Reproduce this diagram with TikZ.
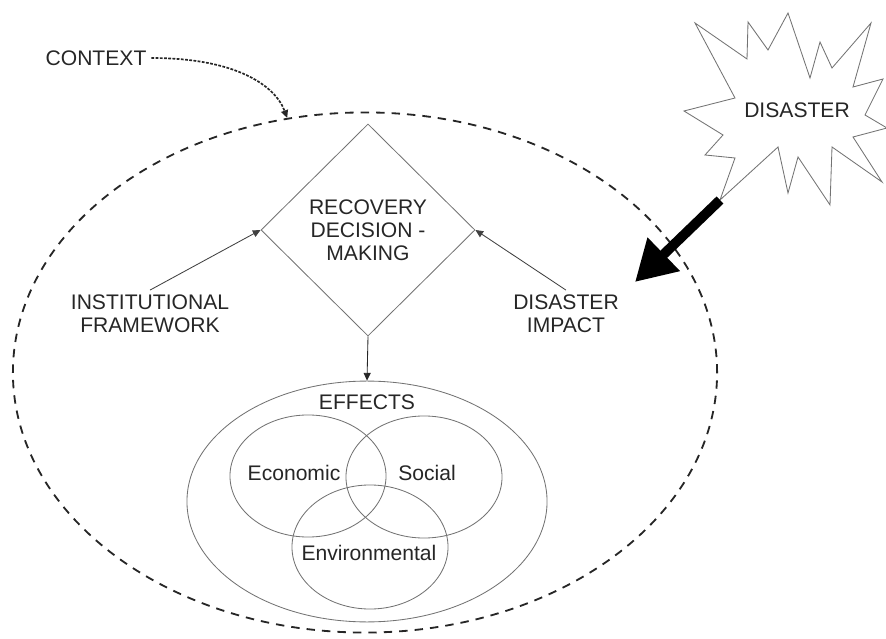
\documentclass[tikz,border=0pt]{standalone}
\usepackage{fontspec}
\setmainfont{Liberation Sans}
\usetikzlibrary{positioning}
\usetikzlibrary{calc}
\usetikzlibrary{shapes.geometric}
\usetikzlibrary{arrows.meta}

\begin{document}
\begin{tikzpicture}[x=0.025cm,y=0.025cm,->,>={Triangle[length=5.5pt,width=5pt]}]
				\tikzset{txt/.style = {align=center, font=\fontsize{15}{16.3}\selectfont, text=black!85}}
				\tikzset{ring/.style = {shape=ellipse, draw=black!55, semithick, inner sep=0pt}}
				\tikzset{area/.style = {shape=ellipse, draw=black!85, line width=1.3pt, dash pattern=on 6pt off 5pt, inner sep=0pt}}
				\tikzset{vertex/.style = {shape=diamond, draw=black!55, semithick, inner sep=0pt, minimum width=5.35cm, minimum height=5.3cm, txt}}
				\useasboundingbox (0,0) rectangle (886,638);
				
				% context and effects
				\node[area, minimum width=17.6cm, minimum height=13cm] (AREA) at (365,265.5) {};
				\node[ring, minimum width=9cm, minimum height=6.02cm] (EFFECTS) at (367,136.5) {};
				\node[ring, minimum width=3.9cm, minimum height=3.05cm] (ECON) at (308,162) {};
				\node[ring, minimum width=3.9cm, minimum height=3.05cm] (SOC) at (424,161) {};
				\node[ring, minimum width=3.9cm, minimum height=3.1cm] (ENV) at (370,91) {};
				\node[txt] (EFFECTSTXT) at (367,236) {EFFECTS};
				\node[txt] (ECONTXT) at (294,165) {Economic};
				\node[txt] (SOCTXT) at (427,165) {Social};
				\node[txt] (ENVTXT) at (369,85) {Environmental};
				
				\node[vertex] (RDM) at (368,408) {RECOVERY\\DECISION -\\MAKING};
				\node[txt] (INST) at (150,324) {INSTITUTIONAL\\FRAMEWORK};
				\node[txt] (IMPACT) at (566,324) {DISASTER\\IMPACT};
				\node[txt] (CONTEXT) at (96,580) {CONTEXT};
				
				\draw[semithick, black!75] (INST.north) -- (RDM.west);
				\draw[semithick, black!75] (IMPACT.north) -- (RDM.east);
				\draw[semithick, black!85] (RDM.south) -- (EFFECTS.north);
				\draw[black!85, line width=1.2pt, dash pattern=on 2pt off 1pt] (CONTEXT.east) .. controls (235,580) and (275,553) .. (AREA.107);
				
				% disaster
				\draw[-, black!55, semithick, fill=white] (695,615) -- (747,579) -- (748,616) -- (768,588) -- (788,625) -- (810,560) -- (820,596) -- (832,570) -- (871,615) -- (853,551) -- (883,559) -- (865,523) -- (887,510) -- (853,501) -- (882,456) -- (832,491) -- (830,433) -- (798,481) -- (788,445) -- (778,491) -- (720,438) -- (735,480) -- (705,483) -- (723,503) -- (684,527) -- (735,540) -- cycle;
				\node[txt] (DISASTER) at (797,528) {DISASTER};
				\coordinate (BURSTTIP) at (720,438);
				\coordinate (HIT) at (635,356);
				\draw[line width=7pt, -{Triangle[length=1cm,width=1.1cm]}] (BURSTTIP) -- (HIT);
				
\end{tikzpicture}
\end{document}
